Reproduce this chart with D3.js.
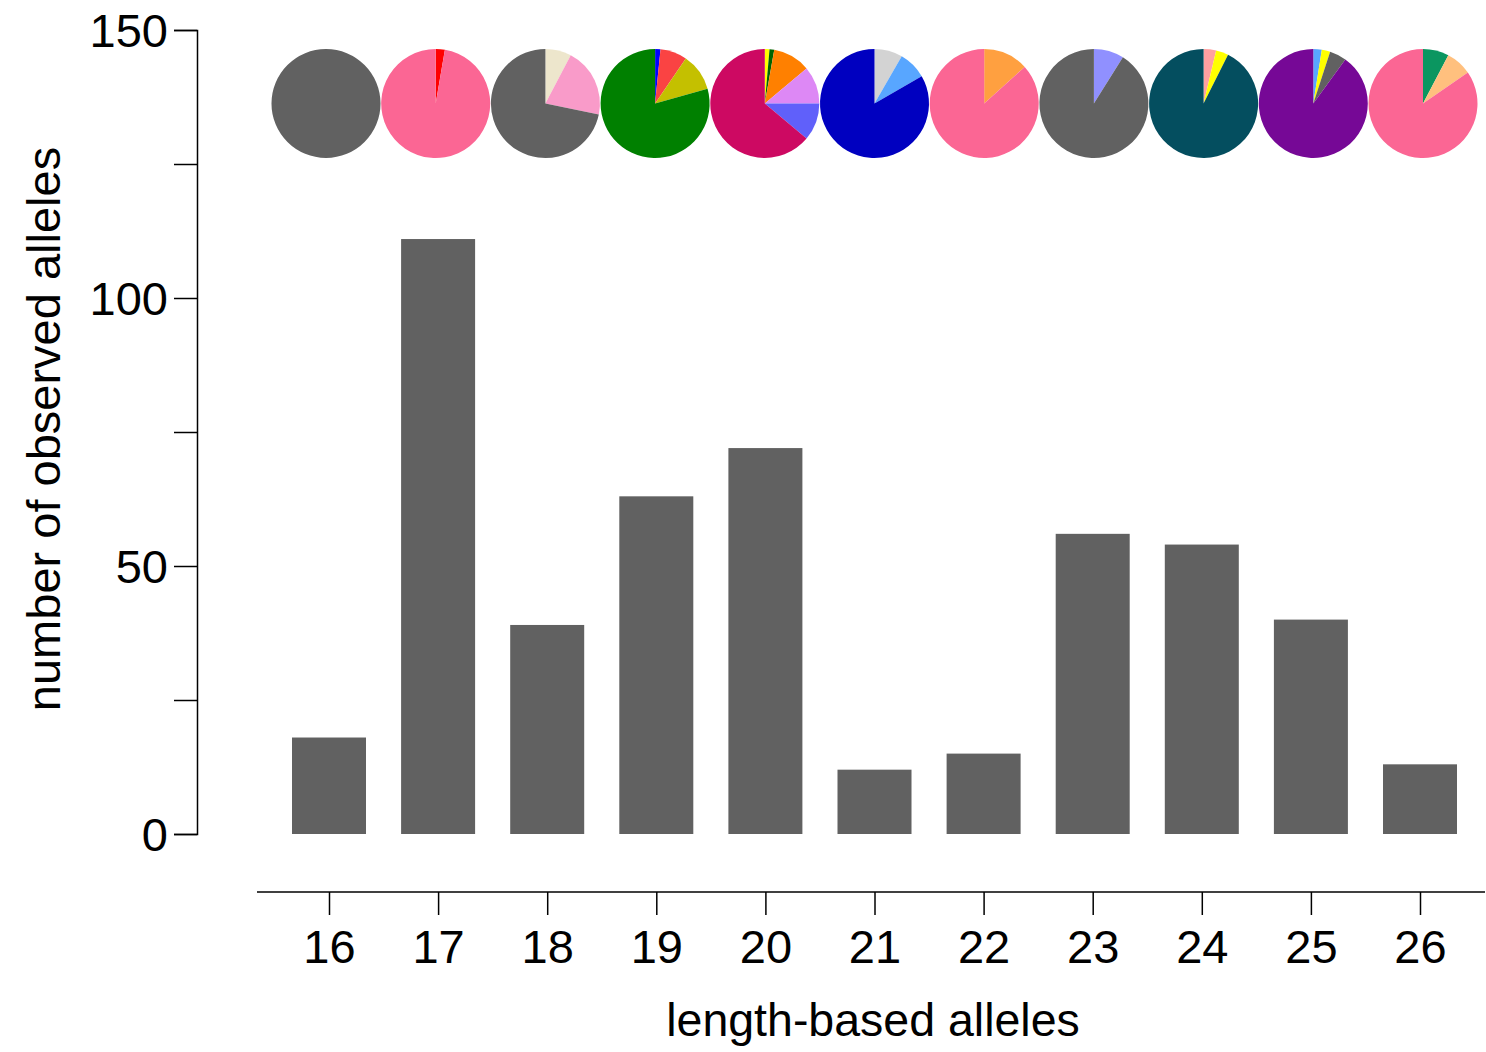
<!DOCTYPE html>
<html>
<head>
<meta charset="utf-8">
<script src="https://cdn.jsdelivr.net/npm/d3@7"></script>
<style>
  body { margin: 0; background: #fff; }
  svg text { font-family: "Liberation Sans", Arial, sans-serif; fill: #000; }
</style>
</head>
<body>
<div id="chart"></div>
<script>
// length-based alleles and how often each was observed
const alleles = ["16", "17", "18", "19", "20", "21", "22", "23", "24", "25", "26"];
const counts = [18, 111, 39, 63, 72, 12, 15, 56, 54, 40, 13];
const yTicks = [0, 25, 50, 75, 100, 125, 150];
const yLabels = [0, 50, 100, 150];

// pie breakdown per allele (clockwise from 12 o'clock)
const pieValues = [
  [18],
  [3, 108],
  [3, 8, 28],
  [1, 5, 7, 50],
  [1, 1, 8, 8, 8, 46],
  [1, 1, 10],
  [2, 13],
  [5, 51],
  [2, 2, 50],
  [1, 1, 2, 36],
  [1, 1, 11]
];
const pieColors = [
  ["#616161"],
  ["#ff0000", "#fb6694"],
  ["#ede6cc", "#f99bc9", "#616161"],
  ["#0000ff", "#fa4343", "#c4c000", "#008000"],
  ["#ffff00", "#006400", "#ff8000", "#dd88f5", "#6060fa", "#cd0962"],
  ["#d3d3d3", "#58a6ff", "#0000c0"],
  ["#ffa040", "#fb6694"],
  ["#9090ff", "#616161"],
  ["#ffa0a0", "#ffff00", "#044e5f"],
  ["#58a6ff", "#ffff00", "#616161", "#760896"],
  ["#0b9660", "#ffc07e", "#fb6694"]
];

const width = 1486, height = 1052;

let svg = d3.select('#chart')
  .append('svg')
  .attr('width', width)
  .attr('height', height);

// scales
let x = d3.scalePoint()
  .domain(alleles)
  .range([329, 1420]);

// the pie row sits a touch wider than the bars
let xPie = d3.scalePoint()
  .domain(alleles)
  .range([326, 1423]);

let y = d3.scaleLinear()
  .domain([0, 150])
  .range([834, 30]);

const barW = 74;

// bars
svg.selectAll('.bar')
  .data(counts)
  .enter()
  .append('rect')
  .attr('class', 'bar')
  .attr('x', (d, i) => x(alleles[i]) - barW / 2)
  .attr('y', d => y(d))
  .attr('width', barW)
  .attr('height', d => y(0) - y(d))
  .attr('fill', '#616161');

// y axis
let yAxis = d3.axisLeft(y)
  .tickValues(yTicks)
  .tickSize(23)
  .tickPadding(6)
  .tickFormat(d => yLabels.includes(d) ? d : '');

let gy = svg.append('g')
  .attr('transform', 'translate(197,0)')
  .call(yAxis);
gy.select('.domain').attr('stroke', '#000').attr('stroke-width', 1.5);
gy.selectAll('.tick line').attr('stroke', '#000').attr('stroke-width', 1.5);
gy.selectAll('.tick text')
  .style('font-size', '47px')
  .attr('dy', '0.36em');

// x axis, set off below the plot
let xAxis = d3.axisBottom(x)
  .tickSize(23)
  .tickPadding(15)
  .tickSizeOuter(0);

let gx = svg.append('g')
  .attr('transform', 'translate(0,892)')
  .call(xAxis);
gx.select('.domain')
  .attr('d', 'M257,0H1485')
  .attr('stroke', '#000').attr('stroke-width', 1.5);
gx.selectAll('.tick line').attr('stroke', '#000').attr('stroke-width', 1.5);
gx.selectAll('.tick text').style('font-size', '47px');

// axis titles
svg.append('text')
  .attr('x', 873)
  .attr('y', 1036)
  .attr('text-anchor', 'middle')
  .style('font-size', '46.5px')
  .text('length-based alleles');

svg.append('text')
  .attr('transform', 'translate(60,429) rotate(-90)')
  .attr('text-anchor', 'middle')
  .style('font-size', '47px')
  .text('number of observed alleles');

// pies on top
let pie = d3.pie().sort(null).value(d => d);
let arc = d3.arc().innerRadius(0).outerRadius(54.5);

alleles.forEach((a, i) => {
  let g = svg.append('g')
    .attr('transform', 'translate(' + xPie(a) + ',103.5)');
  g.selectAll('path')
    .data(pie(pieValues[i]))
    .enter()
    .append('path')
    .attr('d', arc)
    .attr('fill', (d, j) => pieColors[i][j]);
});
</script>
</body>
</html>
